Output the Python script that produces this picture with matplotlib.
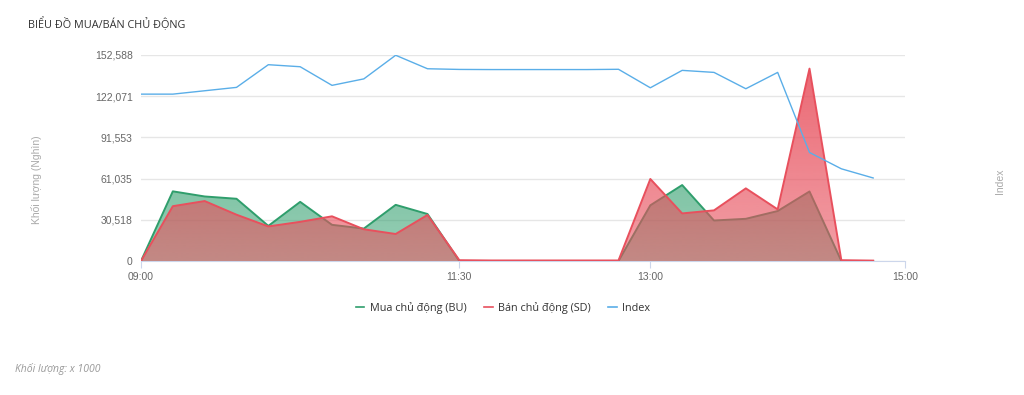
import matplotlib
matplotlib.use('Agg')
import matplotlib.pyplot as plt
import numpy as np
from matplotlib.colors import to_rgb
from matplotlib.lines import Line2D

# ── data (volume in thousands, 15-minute buckets) ─────────────────────────────
times = ['09:00', '09:15', '09:30', '09:45', '10:00', '10:15', '10:30', '10:45',
         '11:00', '11:15', '11:30', '11:45', '12:00', '12:15', '12:30', '12:45',
         '13:00', '13:15', '13:30', '13:45', '14:00', '14:15', '14:30', '14:45']
buy_active = [0, 51600, 47800, 46100, 26000, 43800, 26800, 24000,
              41600, 34800, 0, 0, 0, 0, 0, 0,
              41250, 56250, 30000, 31250, 37000, 51500, 0, 0]
sell_active = [0, 40600, 44400, 34300, 25600, 29000, 33100, 23500,
               20000, 34100, 600, 400, 400, 400, 400, 400,
               60750, 35250, 37500, 53800, 38250, 142500, 600, 300]
index_vals = [123600, 123600, 126100, 128600, 145400, 143900, 130100, 134900,
              152400, 142400, 141900, 141800, 141800, 141800, 141800, 142000,
              128300, 141200, 139700, 127600, 139700, 80400, 68300, 61500]
x_ticks = ['09:00', '11:30', '13:00', '15:00']
y_ticks = [0, 30518, 61035, 91553, 122071, 152588]
y_tick_labels = ['0', '30,518', '61,035', '91,553', '122,071', '152,588']

GREEN = '#2f9e6c'
RED = '#e8505d'
BLUE = '#5aaee8'


def to_min(t):
    h, m = t.split(':')
    return (int(h) - 9) * 60 + int(m)


def gradient_area(ax, x, y, color, a_top, a_bot, z):
    # area filled with a vertical alpha gradient, clipped to the series shape
    poly = ax.fill_between(x, 0, y, color='none', linewidth=0)
    ymax = y_ticks[-1]
    alpha = np.linspace(a_bot, a_top, 256).reshape(-1, 1)
    img = np.zeros((256, 1, 4))
    img[..., :3] = to_rgb(color)
    img[..., 3] = alpha
    im = ax.imshow(img, extent=[x.min(), x.max(), 0, ymax], origin='lower',
                   aspect='auto', interpolation='bilinear', zorder=z)
    im.set_clip_path(poly.get_paths()[0], transform=ax.transData)


x = np.array([to_min(t) for t in times])
bu = np.array(buy_active)
sd = np.array(sell_active)
idx = np.array(index_vals)

fig = plt.figure(figsize=(10.24, 3.95), dpi=100)
ax = fig.add_axes([141 / 1024, 1 - 261 / 395, 764 / 1024, 206 / 395])

gradient_area(ax, x, bu, GREEN, 0.8, 0.5, 2)
ax.plot(x, bu, color=GREEN, lw=1.4, zorder=3)
gradient_area(ax, x, sd, RED, 0.88, 0.55, 4)
ax.plot(x, sd, color=RED, lw=1.4, zorder=5)
ax.plot(x, idx, color=BLUE, lw=1.0, zorder=6)

ax.set_xlim(0, 360)
ax.set_ylim(0, y_ticks[-1])
ax.set_xticks([to_min(t) for t in x_ticks])
ax.set_xticklabels(x_ticks)
ax.set_yticks(y_ticks)
ax.set_yticklabels(y_tick_labels)

ax.grid(axis='y', color='#e6e6e6', lw=1)
ax.set_axisbelow(True)
for s in ['top', 'right', 'left']:
    ax.spines[s].set_visible(False)
ax.spines['bottom'].set_color('#ccd6eb')
ax.tick_params(axis='y', length=0, pad=6, labelsize=7.5, labelcolor='#666666')
ax.tick_params(axis='x', length=5, color='#ccd6eb', pad=3, labelsize=7.5,
               labelcolor='#666666')
for lbl in ax.get_xticklabels() + ax.get_yticklabels():
    lbl.set_family('Liberation Sans')

fig.text(28 / 1024, 1 - 24 / 395, 'BIỂU ĐỒ MUA/BÁN CHỦ ĐỘNG', fontsize=7.8,
         family='Open Sans', color='#333333', va='center', ha='left')
fig.text(37 / 1024, 1 - 180 / 395, 'Khối lượng (Nghìn)', rotation=90,
         fontsize=7.5, family='Liberation Sans', color='#aaaaaa',
         va='center', ha='center')
fig.text(1000 / 1024, 1 - 181 / 395, 'Index', rotation=90, fontsize=7.5,
         family='Liberation Sans', color='#aaaaaa', va='center', ha='center')
fig.text(15 / 1024, 1 - 369 / 395, 'Khối lượng: x 1000', fontsize=7.5,
         family='Open Sans', style='italic', color='#999999',
         va='center', ha='left')

handles = [Line2D([], [], color=GREEN, lw=1.2),
           Line2D([], [], color=RED, lw=1.2),
           Line2D([], [], color=BLUE, lw=1.2)]
fig.legend(handles, ['Mua chủ động (BU)', 'Bán chủ động (SD)', 'Index'],
           loc='center', bbox_to_anchor=(503 / 1024, 1 - 308 / 395), ncol=3,
           frameon=False, handlelength=0.8, handletextpad=0.5,
           columnspacing=1.6, prop={'family': 'Open Sans', 'size': 7.8},
           labelcolor='#333333')

fig.savefig('out.png', dpi=100)
